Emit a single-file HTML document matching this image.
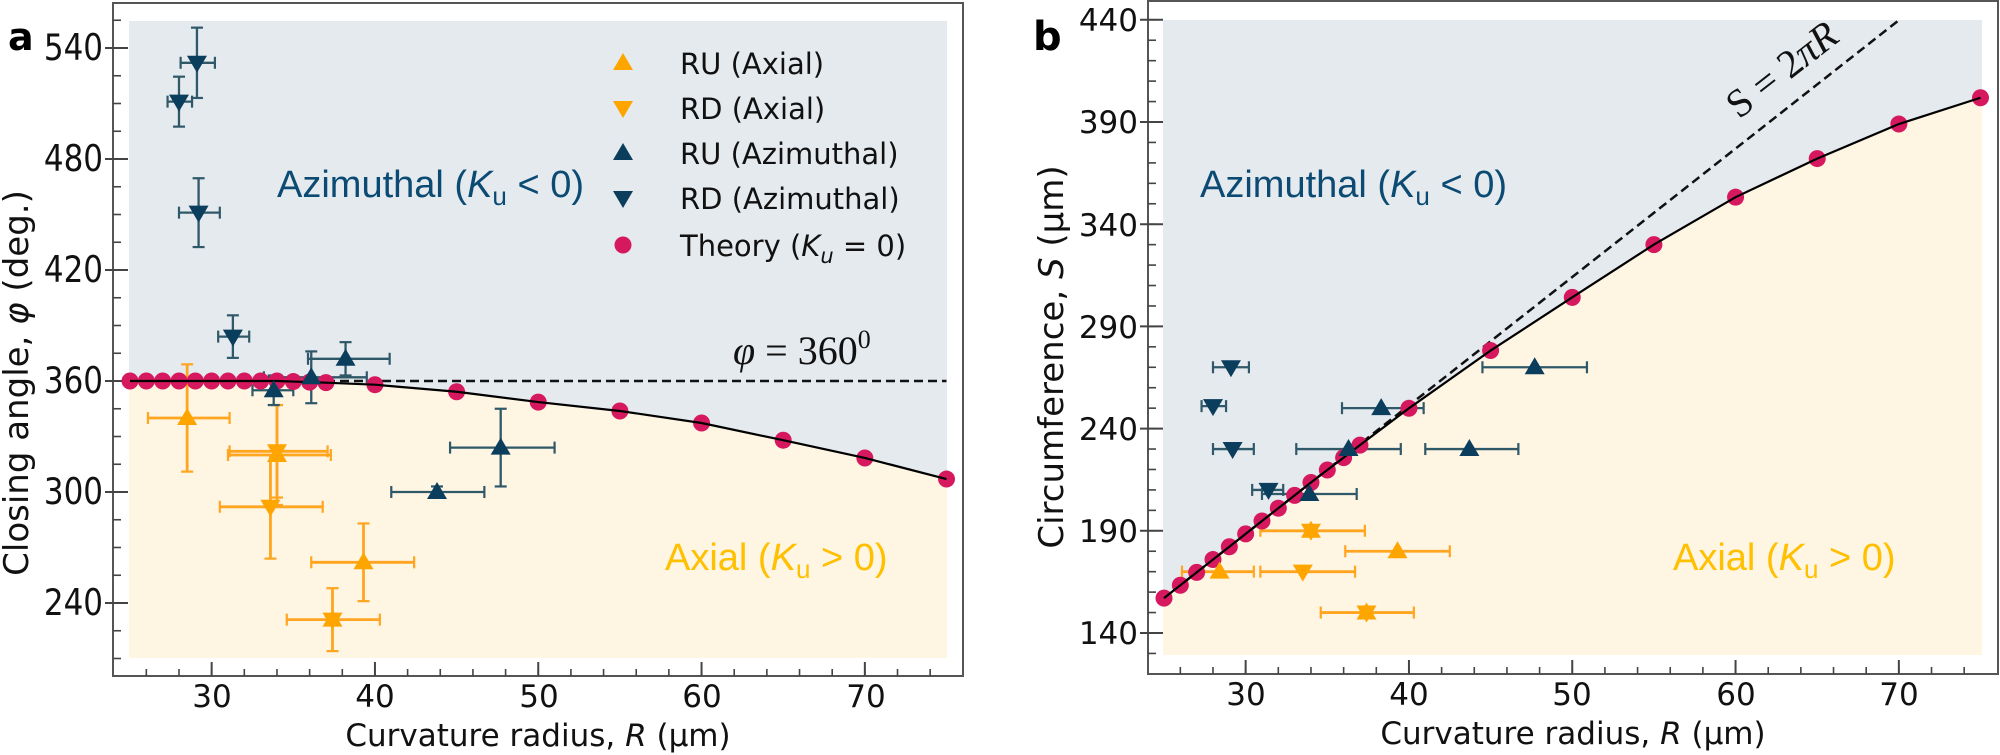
<!DOCTYPE html>
<html><head><meta charset="utf-8"><style>
html,body{margin:0;padding:0;background:#fff;}
svg{display:block;}
.tk{font-family:"DejaVu Sans",sans-serif;font-size:31px;fill:#111;}
.lg{font-family:"DejaVu Sans",sans-serif;font-size:29px;fill:#111;}
.rg{font-family:"Liberation Sans",Arial,sans-serif;font-size:38px;}
</style></head><body>
<svg id="s" width="2000" height="755" viewBox="0 0 2000 755" xmlns="http://www.w3.org/2000/svg">
<g id="shapes"></g>
<!-- Panel a text -->
<text x="8" y="50" font-family="DejaVu Sans" font-weight="bold" font-size="38" fill="#000">a</text>
<g class="tk" text-anchor="end">
<text transform="translate(103,60) scale(1,1.18)">540</text><text transform="translate(103,171) scale(1,1.18)">480</text><text transform="translate(103,282) scale(1,1.18)">420</text>
<text transform="translate(103,393) scale(1,1.18)">360</text><text transform="translate(103,504) scale(1,1.18)">300</text><text transform="translate(103,615) scale(1,1.18)">240</text>
</g>
<g class="tk" text-anchor="middle">
<text x="212" y="707">30</text><text x="375" y="707">40</text><text x="539" y="707">50</text>
<text x="702" y="707">60</text><text x="866" y="707">70</text>
</g>
<text x="538" y="746" text-anchor="middle" font-family="DejaVu Sans" font-size="31" fill="#111">Curvature radius, <tspan font-style="italic">R</tspan> (μm)</text>
<text transform="translate(28,383) rotate(-90)" text-anchor="middle" font-family="DejaVu Sans" font-size="34" fill="#111">Closing angle, <tspan font-style="italic">φ</tspan> (deg.)</text>
<text class="rg" x="277" y="197" fill="#0b4a72">Azimuthal (<tspan font-style="italic">K</tspan><tspan font-size="26" dy="8">u</tspan><tspan dy="-8"> &lt; 0)</tspan></text>
<text class="rg" x="665" y="570" fill="#ffc000">Axial (<tspan font-style="italic">K</tspan><tspan font-size="26" dy="8">u</tspan><tspan dy="-8"> &gt; 0)</tspan></text>
<text x="733" y="364" font-family="Liberation Serif" font-size="40" fill="#111"><tspan font-style="italic">φ</tspan> = 360<tspan font-size="26" dy="-16">0</tspan></text>
<g class="lg">
<text x="680" y="74">RU (Axial)</text>
<text x="680" y="119">RD (Axial)</text>
<text x="680" y="164">RU (Azimuthal)</text>
<text x="680" y="209">RD (Azimuthal)</text>
<text x="680" y="256">Theory (<tspan font-style="italic">K</tspan><tspan font-style="italic" font-size="21" dy="7">u</tspan><tspan dy="-7"> = 0)</tspan></text>
</g>
<!-- Panel b text -->
<text x="1033" y="50" font-family="DejaVu Sans" font-weight="bold" font-size="40" fill="#000">b</text>
<g class="tk" text-anchor="end">
<text x="1138" y="31">440</text><text x="1138" y="133">390</text><text x="1138" y="236">340</text>
<text x="1138" y="338">290</text><text x="1138" y="440">240</text><text x="1138" y="542">190</text>
<text x="1138" y="644">140</text>
</g>
<g class="tk" text-anchor="middle">
<text x="1246" y="705">30</text><text x="1409" y="705">40</text><text x="1572" y="705">50</text>
<text x="1736" y="705">60</text><text x="1899" y="705">70</text>
</g>
<text x="1573" y="744" text-anchor="middle" font-family="DejaVu Sans" font-size="31" fill="#111">Curvature radius, <tspan font-style="italic">R</tspan> (μm)</text>
<text transform="translate(1063,357) rotate(-90)" text-anchor="middle" font-family="DejaVu Sans" font-size="34" fill="#111">Circumference, <tspan font-style="italic">S</tspan> (μm)</text>
<text class="rg" x="1200" y="197" fill="#0b4a72">Azimuthal (<tspan font-style="italic">K</tspan><tspan font-size="26" dy="8">u</tspan><tspan dy="-8"> &lt; 0)</tspan></text>
<text class="rg" x="1673" y="570" fill="#ffc000">Axial (<tspan font-style="italic">K</tspan><tspan font-size="26" dy="8">u</tspan><tspan dy="-8"> &gt; 0)</tspan></text>
<text transform="translate(1790,80) rotate(-38)" text-anchor="middle" font-family="Liberation Serif" font-size="40" fill="#111">S = 2<tspan font-style="italic">πR</tspan></text>
</svg>
<script>
(function(){
var NS="http://www.w3.org/2000/svg",G=document.getElementById("shapes");
function el(t,a){var e=document.createElementNS(NS,t);for(var k in a)e.setAttribute(k,a[k]);G.appendChild(e);return e;}
function line(x1,y1,x2,y2,c,w,extra){var a={x1:x1,y1:y1,x2:x2,y2:y2,stroke:c,"stroke-width":w};if(extra)for(var k in extra)a[k]=extra[k];return el("line",a);}
var OR="#ffa500",ORE="#ffa51f",DK="#0b3d5c",DKE="#2f5868",PK="#d6185e",BL="#e5eaee",YL="#fef5e3";
function tri(x,y,up,c){var p=up?[x,y-10,x-10,y+7,x+10,y+7]:[x,y+10,x-10,y-7,x+10,y-7];el("polygon",{points:p.join(","),fill:c});}
function panel(P){
 var X=function(r){return P.x0+(r-25)*16.33;},Y=P.Y;
 el("rect",{x:P.sl,y:P.st,width:P.sr-P.sl,height:P.sb-P.st,fill:BL});
 var pts=[[P.sl,P.sb]];P.th.forEach(function(d){pts.push([X(d[0]),Y(d[1])]);});
 pts[1][0]=P.sl;pts.push([P.sr,Y(P.th[P.th.length-1][1])],[P.sr,P.sb]);
 el("polygon",{points:pts.map(function(p){return p.join(",")}).join(" "),fill:YL});
 el("rect",{x:P.fl,y:P.ft,width:P.fr-P.fl,height:P.fb-P.ft,fill:"none",stroke:"#555","stroke-width":2});
 for(var r=26;r<=74;r+=2){var x=X(r);line(x,P.fb,x,P.fb-7,"#444",1.6);}
 for(var r=30;r<=70;r+=10){var x=X(r);line(x,P.fb,x,P.fb-14,"#444",2);}
 for(var v=P.ymn;v<=P.ymx;v+=P.ymin){var y=Y(v);line(P.fl,y,P.fl+8,y,"#444",1.6);}
 P.ymaj.forEach(function(v){var y=Y(v);line(P.fl-8,y,P.fl+15,y,"#444",2);});
 line(X(P.dash[0][0]),Y(P.dash[0][1]),X(P.dash[1][0]),Y(P.dash[1][1]),"#111",2.5,{"stroke-dasharray":"9,5"});
 P.data.forEach(function(d){
  var c=d[1],x=X(d[2]),y=Y(d[3]),ec=c==="o"?ORE:DKE;
  var xl=X(d[4]),xh=X(d[5]),w=c==="o"?2.8:2.3;
  line(xl,y,xh,y,ec,w);line(xl,y-6,xl,y+6,ec,2.2);line(xh,y-6,xh,y+6,ec,2.2);
  if(d[6]){var yl=Y(d[3]-d[6]),yh=Y(d[3]+d[6]);line(x,yl,x,yh,ec,w);line(x-6,yl,x+6,yl,ec,2.2);line(x-6,yh,x+6,yh,ec,2.2);}
 });
 P.th.forEach(function(d){el("circle",{cx:X(d[0]),cy:Y(d[1]),r:8.5,fill:PK});});
 el("polyline",{points:P.th.map(function(d){return X(d[0])+","+Y(d[1])}).join(" "),fill:"none",stroke:"#000","stroke-width":2.2});
 P.data.forEach(function(d){var mc=d[1]==="o"?OR:DK,x=X(d[2]),y=Y(d[3]);
  if(d[0]==="U"||d[0]==="H")tri(x,y,true,mc);if(d[0]==="D"||d[0]==="H")tri(x,y,false,mc);});
}
var tha=[];for(var r=25;r<=37;r++)tha.push([r,360-(r>=35?(r-34)*0.3:0)]);
tha=tha.concat([[40,358],[45,354.2],[50,348.6],[55,343.8],[60,337.3],[65,328],[70,318.4],[75,307]]);
panel({x0:130,Y:function(v){return 381-(v-360)*1.85;},sl:129,sr:947,st:21,sb:658,fl:113,fr:963,ft:3,fb:676,
 ymn:210,ymx:555,ymin:15,ymaj:[240,300,360,420,480,540],dash:[[25,360],[75,360]],th:tha,
 data:[["U","o",28.5,340,26.1,31.1,29],["U","o",34,320,31,37.3,27],["D","o",34,322,31.1,37.1,25],
 ["D","o",33.6,292,30.5,36.8,28],["U","o",39.3,262,36.1,42.4,21],["H","o",37.4,231,34.6,40.3,17],
 ["U","d",43.8,300,41,46.7,3],["U","d",47.7,324,44.6,51,21],["D","d",28.0,511,27.3,28.8,13.5],
 ["D","d",29.1,532,28.1,30.2,19],["D","d",29.2,451,28,30.5,18.6],["D","d",31.3,384,30.4,32.3,11.5],
 ["U","d",38.2,372,35.9,40.9,9],["U","d",36.1,362,33.2,39.5,14],["U","d",33.8,355,32.5,35,8]]});
var thb=tha.map(function(d){return [d[0],2*Math.PI*d[0]*d[1]/360];});
panel({x0:1164,Y:function(v){return 633-(v-140)*2.044;},sl:1163,sr:1982,st:20,sb:655,fl:1148,fr:1998,ft:1,fb:674,
 ymn:130,ymx:440,ymin:10,ymaj:[140,190,240,290,340,390,440],dash:[[25,157.08],[70,439.8]],th:thb,
 data:[["D","d",28.0,251,27.3,28.8,0],["D","d",29.2,230,28,30.5,0],["D","d",31.4,210,30.4,32.3,0],
 ["D","d",29.1,270,28,30.2,0],["U","d",38.3,250,35.9,40.9,0],["U","d",36.3,230,33.1,39.5,0],
 ["U","d",43.7,230,41,46.7,0],["U","d",33.9,208,31,36.8,0],["U","d",47.7,270,44.5,50.9,0],
 ["H","o",34,190,30.9,37.3,0],["U","o",39.3,180,36.1,42.5,0],["U","o",28.4,170,26.1,30.5,0],
 ["D","o",33.5,170,30.9,36.7,0],["H","o",37.4,150,34.6,40.3,0]]});
tri(623,63,true,OR);tri(623,108,false,OR);tri(623,153,true,DK);tri(623,198,false,DK);
el("circle",{cx:623,cy:245,r:8.5,fill:PK});
})();
</script>
</body></html>
